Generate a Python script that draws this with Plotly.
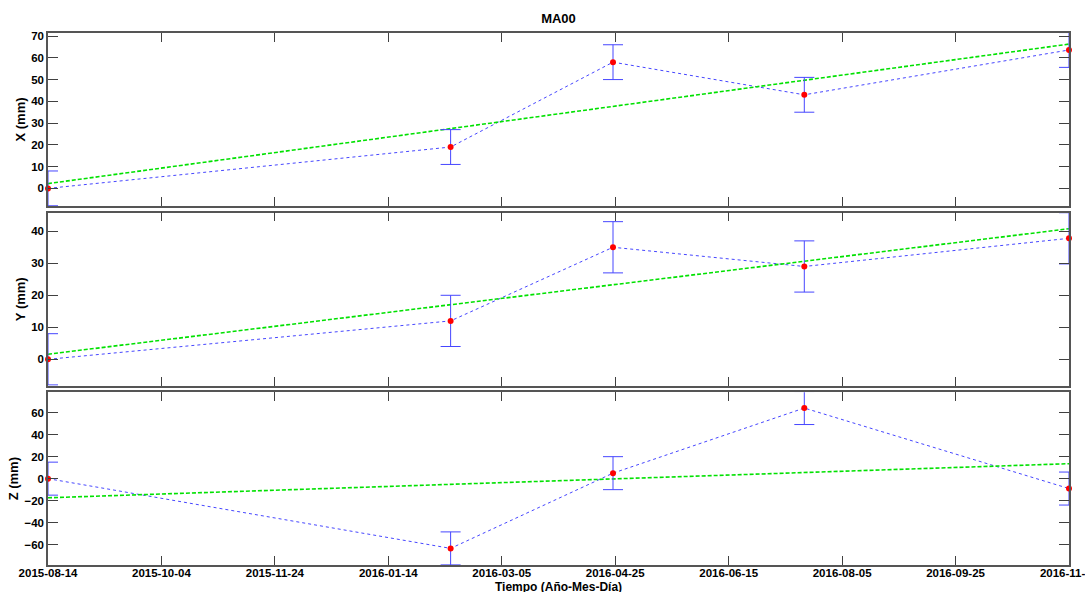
import plotly.graph_objects as go

# ---- data ----
dates = ["2015-08-14", "2016-02-11", "2016-04-24", "2016-07-19", "2016-11-15"]
x_mm = [0, 19, 58, 43, 63.6]
y_mm = [0, 12, 35, 29, 37.8]
z_mm = [0, -63.4, 5, 64.2, -9]
x_err = [8, 8, 8, 8, 8]
y_err = [8, 8, 8, 8, 8]
z_err = [15, 15, 15, 15, 15]

trend_dates = ["2015-08-14", "2016-11-15"]
x_trend = [2.2, 66.3]
y_trend = [1.6, 40.8]
z_trend = [-17.4, 13.6]

tick_dates = ["2015-08-14", "2015-10-04", "2015-11-24", "2016-01-14", "2016-03-05",
              "2016-04-25", "2016-06-15", "2016-08-05", "2016-09-25", "2016-11-15"]

panels = [
    ("X (mm)", x_mm, x_err, x_trend, [-8.1, 71.4], 10, [0.6748, 1.0]),
    ("Y (mm)", y_mm, y_err, y_trend, [-8.25, 45.8], 10, [0.337, 0.6622]),
    ("Z (mm)", z_mm, z_err, z_trend, [-78.5, 78.5], 20, [0.0, 0.3246]),
]

BLUE = "rgb(70,70,255)"
FONT = "Liberation Sans, Arial, sans-serif"
tick_font = dict(family=FONT, size=11.5, color="black", weight="bold")
title_font = dict(family=FONT, size=13, color="black", weight="bold")
x_range = ["2015-08-14", "2016-11-15"]

fig = go.Figure()
layout = {}
for i, (label, vals, err, trend, yr, dt, dom) in enumerate(panels, start=1):
    xa = "x" if i == 1 else f"x{i}"
    ya = "y" if i == 1 else f"y{i}"
    xo, yo = f"x{i + 3}", f"y{i + 3}"   # overlay axes for unclipped markers
    # dotted connecting line
    fig.add_trace(go.Scatter(x=dates, y=vals, mode="lines", xaxis=xa, yaxis=ya,
                             line=dict(color=BLUE, width=1, dash="dot"), showlegend=False,
                             hoverinfo="skip", cliponaxis=True))
    # trend line
    fig.add_trace(go.Scatter(x=trend_dates, y=trend, mode="lines", xaxis=xa, yaxis=ya,
                             line=dict(color="rgb(0,225,0)", width=1.6, dash="4px,2px"),
                             showlegend=False, hoverinfo="skip", cliponaxis=True))
    # error bars (clipped to the axes)
    fig.add_trace(go.Scatter(x=dates, y=vals, mode="markers", xaxis=xa, yaxis=ya,
                             marker=dict(size=0.1, color="rgba(0,0,0,0)"),
                             error_y=dict(type="data", array=err, color=BLUE, thickness=1, width=10),
                             showlegend=False, cliponaxis=True))
    # red markers (not clipped)
    fig.add_trace(go.Scatter(x=dates, y=vals, mode="markers", xaxis=xo, yaxis=yo,
                             marker=dict(size=6, color="red", symbol="circle"),
                             showlegend=False, cliponaxis=False))

    key_x = "xaxis" if i == 1 else f"xaxis{i}"
    key_y = "yaxis" if i == 1 else f"yaxis{i}"
    layout[key_x] = dict(
        type="date", range=x_range, anchor=ya,
        tickvals=tick_dates, ticktext=tick_dates, showticklabels=(i == 3),
        ticks="inside", ticklen=9, tickcolor="#404040", tickwidth=1,
        showline=True, linecolor="#555555", linewidth=1.5, mirror="ticks",
        showgrid=False, zeroline=False, tickfont=tick_font,
        ticklabeloverflow="allow", ticklabelstandoff=-4,
        automargin=False, domain=[0, 1],
    )
    if i != 1:
        layout[key_x]["matches"] = "x"
    layout[key_y] = dict(
        range=yr, dtick=dt, tick0=0, domain=dom, anchor=xa,
        ticks="inside", ticklen=10, tickcolor="#404040", tickwidth=1,
        showline=True, linecolor="#555555", linewidth=1.5, mirror="ticks",
        showgrid=False, zeroline=False, tickfont=tick_font,
        title=dict(text=label, font=title_font, standoff=3),
        automargin=False,
    )
    layout[f"xaxis{i + 3}"] = dict(type="date", range=x_range, overlaying=xa, matches="x",
                                   anchor=yo, visible=False)
    layout[f"yaxis{i + 3}"] = dict(range=yr, overlaying=ya, anchor=xo, visible=False)

fig.update_layout(
    width=1085, height=592,
    margin=dict(l=48, r=16, t=33, b=27),
    paper_bgcolor="white", plot_bgcolor="white",
    title=dict(text="MA00", x=0.5, xref="paper", y=1 - 18 / 592, yanchor="middle",
               font=dict(family=FONT, size=13, color="black", weight="bold")),
    annotations=[dict(text="Tiempo (Año-Mes-Día)", xref="paper", yref="paper", x=0.5, y=-22 / 532,
                      yanchor="middle", showarrow=False,
                      font=dict(family=FONT, size=12, color="black", weight="bold"))],
    **layout,
)

fig.write_html("out.html")
